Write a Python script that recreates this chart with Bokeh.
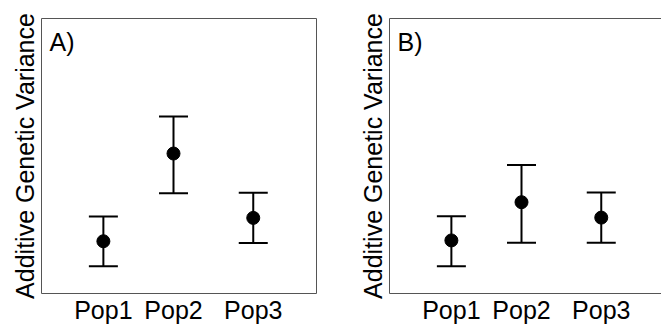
from bokeh.plotting import figure
from bokeh.models import ColumnDataSource, Whisker, TeeHead, FixedTicker, Range1d, Label, LinearAxis
from bokeh.layouts import row
from bokeh.embed import file_html
from bokeh.resources import INLINE

# ---- data ----
pops = ["Pop1", "Pop2", "Pop3"]
xpos = [0.90, 1.92, 3.08]
a_mean = [1.90, 5.09, 2.75]
a_upper = [2.80, 6.44, 3.66]
a_lower = [0.99, 3.65, 1.84]
b_mean = [1.93, 3.32, 2.76]
b_upper = [2.81, 4.67, 3.67]
b_lower = [0.99, 1.85, 1.85]

FONT = "Liberation Sans"
FRAME = "#555555"


def panel(tag, mean, upper, lower, width, left_border, right_border, x_end, outline):
    p = figure(width=width, height=326, output_backend="svg", toolbar_location=None,
               x_range=Range1d(0, x_end), y_range=Range1d(0, 10),
               min_border_left=left_border, min_border_right=right_border,
               min_border_top=18, min_border_bottom=33)
    p.grid.visible = False
    p.background_fill_color = "white"
    p.border_fill_color = "white"
    if outline:
        p.outline_line_color = FRAME
        p.outline_line_width = 1
    else:
        p.outline_line_color = None
    src = ColumnDataSource(dict(x=xpos, mean=mean, upper=upper, lower=lower))
    w = Whisker(base="x", upper="upper", lower="lower", source=src, dimension="height",
                line_color="black", line_width=2,
                upper_head=TeeHead(size=29, line_width=2, line_color="black"),
                lower_head=TeeHead(size=29, line_width=2, line_color="black"))
    p.add_layout(w)
    p.scatter("x", "mean", source=src, size=13, color="black")

    # x axis
    xa = p.xaxis[0]
    xa.ticker = FixedTicker(ticks=xpos)
    xa.major_label_overrides = {x: n for x, n in zip(xpos, pops)}
    xa.major_tick_line_color = None
    xa.minor_tick_line_color = None
    xa.axis_line_color = None if outline else FRAME
    xa.major_label_text_font = FONT
    xa.major_label_text_font_size = "25px"
    xa.major_label_text_color = "black"
    xa.major_label_standoff = -4

    ya = p.yaxis[0]
    ya.ticker = FixedTicker(ticks=[])
    ya.major_tick_line_color = None
    ya.minor_tick_line_color = None
    ya.axis_line_color = None if outline else FRAME
    ya.axis_label = "Additive Genetic Variance"
    ya.axis_label_text_font = FONT
    ya.axis_label_text_font_size = "25px"
    ya.axis_label_text_font_style = "normal"
    ya.axis_label_text_color = "black"
    ya.axis_label_standoff = 3

    if not outline:
        top = LinearAxis(ticker=FixedTicker(ticks=[]), axis_line_color=FRAME,
                         major_tick_line_color=None, minor_tick_line_color=None)
        p.add_layout(top, "above")

    lab = Label(x=8, y=9.64, x_units="screen", y_units="data", text=tag,
                text_baseline="top",
                text_font=FONT, text_font_size="25px", text_color="black")
    p.add_layout(lab)
    return p


pa = panel("A)", a_mean, a_upper, a_lower, 330, 41, 14, 4.0, True)
pb = panel("B)", b_mean, b_upper, b_lower, 331, 59, 0, 4.0 * 272 / 275, False)

layout = row(pa, pb, spacing=0)
open("out.html", "w").write(file_html(layout, INLINE))
